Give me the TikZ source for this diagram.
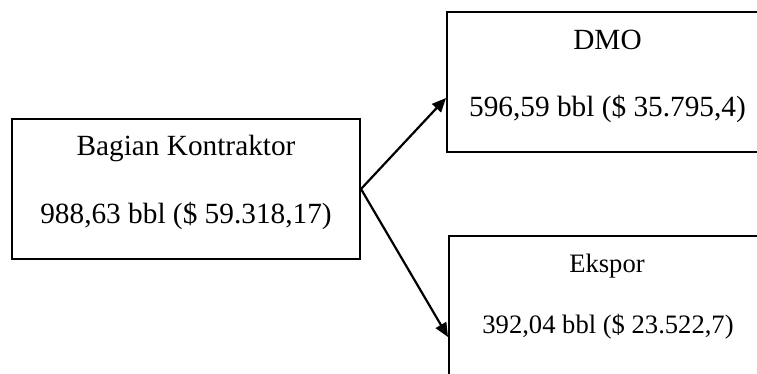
\documentclass[tikz,border=0pt]{standalone}
\usepackage{fontspec}
\setmainfont{Liberation Serif}
\usetikzlibrary{arrows.meta,calc}
\begin{document}
\begin{tikzpicture}[x=1pt,y=-1pt,
  boxnode/.style={draw=black,line width=2pt,rectangle,inner sep=0pt},
  bigtxt/.style={anchor=base,inner sep=0pt,font=\fontsize{29.3}{35}\selectfont},
  smalltxt/.style={anchor=base,inner sep=0pt,font=\fontsize{26.6}{32}\selectfont},
  conn/.style={line width=2.2pt,-{Triangle[length=14pt,width=12pt]}}]
\useasboundingbox (0,0) rectangle (757,374);
\clip (0,0) rectangle (757,374);
\fill[white] (0,0) rectangle (757,374);
% boxes
\node[boxnode,minimum width=348pt,minimum height=140pt] (kon) at (186,189) {};
\node[boxnode,minimum width=323pt,minimum height=140pt] (dmo) at (608.5,82) {};
\node[boxnode,minimum width=321pt,minimum height=154pt] (eks) at (609.5,313) {};
% texts
\node[bigtxt] (konA) at (186,156) {Bagian Kontraktor};
\node[bigtxt] (konB) at (186,223) {988,63 bbl (\$ 59.318,17)};
\node[bigtxt] (dmoA) at (607.5,50) {DMO};
\node[bigtxt] (dmoB) at (607.5,116.5) {596,59 bbl (\$ 35.795,4)};
\node[smalltxt] (eksA) at (607,272.7) {Ekspor};
\node[smalltxt] (eksB) at (608,333.3) {392,04 bbl (\$ 23.522,7)};
% connectors
\draw[conn] (kon.east) -- ([yshift=-16pt]dmo.west);
\draw[conn] (kon.east) -- ([yshift=-24pt]eks.west);
\end{tikzpicture}
\end{document}
